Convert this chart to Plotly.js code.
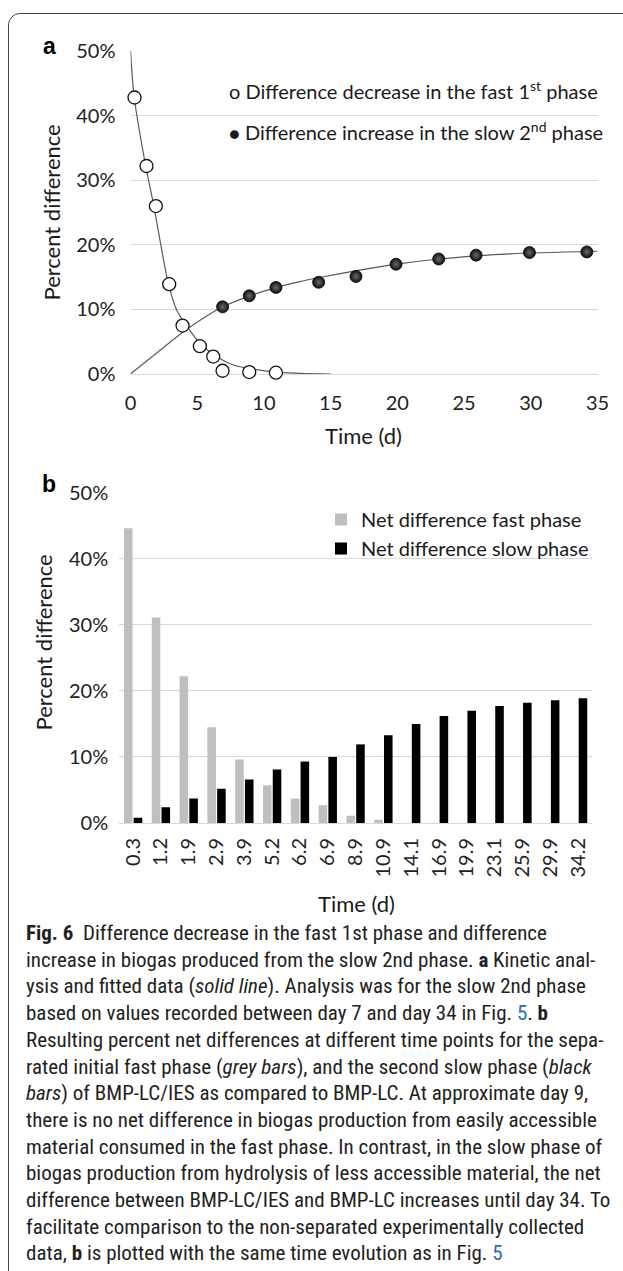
<!DOCTYPE html>
<html>
<head>
<meta charset="utf-8">
<script src="https://cdn.plot.ly/plotly-3.0.1.min.js"></script>
<style>
  html, body { margin:0; padding:0; background:#fff; width:623px; height:1271px; overflow:hidden; }
  #frame { position:absolute; left:8px; top:13px; width:700px; height:1400px; border:1px solid #444; border-top-left-radius:12px; box-sizing:border-box; pointer-events:none; z-index:5; }
  #chart { position:absolute; left:0; top:0; width:623px; height:930px; }
  #caption { position:absolute; left:26px; top:920px; width:600px; font-family:"Liberation Sans Narrow","Roboto Condensed","Liberation Sans",sans-serif; font-size:21px; line-height:26.7px; color:#231f20; white-space:nowrap; }
  #caption a { color:#2f6bb5; text-decoration:none; }
</style>
</head>
<body>
<div id="frame"></div>
<div id="chart"></div>
<div id="caption">
<b>Fig. 6</b>&nbsp; Difference decrease in the fast 1st phase and difference<br>
increase in biogas produced from the slow 2nd phase. <b>a</b> Kinetic anal-<br>
ysis and fitted data (<i>solid line</i>). Analysis was for the slow 2nd phase<br>
based on values recorded between day 7 and day 34 in Fig. <a>5</a>. <b>b</b><br>
Resulting percent net differences at different time points for the sepa-<br>
rated initial fast phase (<i>grey bars</i>), and the second slow phase (<i>black</i><br>
<i>bars</i>) of BMP-LC/IES as compared to BMP-LC. At approximate day 9,<br>
there is no net difference in biogas production from easily accessible<br>
material consumed in the fast phase. In contrast, in the slow phase of<br>
biogas production from hydrolysis of less accessible material, the net<br>
difference between BMP-LC/IES and BMP-LC increases until day 34. To<br>
facilitate comparison to the non-separated experimentally collected<br>
data, <b>b</b> is plotted with the same time evolution as in Fig. <a>5</a>
</div>
<script>
// ---- Panel a: measured points (percent) ----
var fastTimes = [0.3, 1.2, 1.9, 2.9, 3.9, 5.2, 6.2, 6.9, 8.9, 10.9];
var fastDiff  = [42.8, 32.2, 26.0, 13.9, 7.5, 4.3, 2.7, 0.5, 0.3, 0.2];
var slowTimes = [6.9, 8.9, 10.9, 14.1, 16.9, 19.9, 23.1, 25.9, 29.9, 34.2];
var slowDiff  = [10.4, 12.1, 13.4, 14.2, 15.1, 17.0, 17.8, 18.4, 18.8, 18.9];
// ---- Panel a: fitted curves ----
var fitFastX = [0, 0.28, 1.14, 1.75, 2.34, 2.84, 3.46, 4.26, 5.21, 6.46, 7.71, 10.2, 12.7, 15.0];
var fitFastY = [50, 42.8, 32.2, 26.0, 19.2, 14.0, 9.9, 7.3, 4.75, 2.7, 1.4, 0.46, 0.1, 0];
var fitSlowX = [0, 2.08, 4.33, 6.91, 8.96, 10.96, 12.7, 14.08, 16.96, 19.95, 23.1, 26.0, 28.45, 35];
var fitSlowY = [0, 3.45, 7.07, 10.4, 12.1, 13.4, 14.3, 14.9, 16.0, 17.0, 17.8, 18.3, 18.6, 19.0];
// ---- Panel b: net differences (percent) ----
var timeLabels = ['0.3','1.2','1.9','2.9','3.9','5.2','6.2','6.9','8.9','10.9','14.1','16.9','19.9','23.1','25.9','29.9','34.2'];
var netFast = [44.6, 31.1, 22.2, 14.5, 9.6, 5.7, 3.7, 2.7, 1.1, 0.5, 0, 0, 0, 0, 0, 0, 0];
var netSlow = [0.8, 2.4, 3.7, 5.2, 6.6, 8.1, 9.3, 10.0, 11.9, 13.3, 15.0, 16.2, 17.0, 17.7, 18.2, 18.6, 18.9];

var W = 623, H = 930;
function px(x){ return x / W; }
function py(y){ return 1 - y / H; }

var traces = [
  {x: fitFastX, y: fitFastY, type:'scatter', mode:'lines', line:{color:'#5a5a5a', width:1.2, shape:'spline', smoothing:0.8}, showlegend:false, xaxis:'x', yaxis:'y', cliponaxis:false},
  {x: fitSlowX, y: fitSlowY, type:'scatter', mode:'lines', line:{color:'#5a5a5a', width:1.2, shape:'spline', smoothing:0.8}, showlegend:false, xaxis:'x', yaxis:'y', cliponaxis:false},
  {x: fastTimes, y: fastDiff, type:'scatter', mode:'markers', name:'Difference decrease in the fast 1st phase',
   marker:{symbol:'circle', size:13, color:'#ffffff', line:{color:'#111', width:1.3}}, showlegend:false, xaxis:'x', yaxis:'y', cliponaxis:false},
  {x: slowTimes, y: slowDiff, type:'scatter', mode:'markers', name:'Difference increase in the slow 2nd phase',
   marker:{symbol:'circle', size:12, color:'#111111', gradient:{type:'radial', color:'#6a6a6a'}, line:{color:'#000', width:0.8}}, showlegend:false, xaxis:'x', yaxis:'y', cliponaxis:false},
  {x: timeLabels, y: netFast, type:'bar', name:'Net difference fast phase', marker:{color:'#bfbfbf'}, xaxis:'x2', yaxis:'y2'},
  {x: timeLabels, y: netSlow, type:'bar', name:'Net difference slow phase', marker:{color:'#000000'}, xaxis:'x2', yaxis:'y2'}
];

var tickFont = {family:'Lato, sans-serif', size:20, color:'#222'};
var titleFont = {family:'Lato, sans-serif', size:22, color:'#1a1a1a'};
var legFont = {family:'Lato, sans-serif', size:20, color:'#1a1a1a'};

var layout = {
  width: W, height: H,
  margin:{l:0, r:0, t:0, b:0},
  paper_bgcolor:'rgba(0,0,0,0)', plot_bgcolor:'rgba(0,0,0,0)',
  font: tickFont,
  barmode:'group', bargap:0.30, bargroupgap:0.12,
  showlegend:true,
  legend:{x:px(321), y:py(500), xanchor:'left', yanchor:'top', font:legFont, bgcolor:'rgba(0,0,0,0)', tracegroupgap:0},
  xaxis:{domain:[px(130.5), px(597.5)], range:[0,35], dtick:5, tick0:0, showgrid:false, zeroline:false, showline:false, ticks:'', ticklabelstandoff:15, tickfont:tickFont, anchor:'y', fixedrange:true},
  yaxis:{domain:[py(374), py(51)], range:[0,50], dtick:10, ticksuffix:'%', gridcolor:'#d9d9d9', gridwidth:1, zeroline:true, zerolinecolor:'#d9d9d9', zerolinewidth:1, showline:false, ticks:'', ticklabelstandoff:14, tickfont:tickFont, anchor:'x', fixedrange:true},
  xaxis2:{domain:[px(119.2), px(592)], type:'category', tickangle:-90, showgrid:false, zeroline:false, showline:false, ticks:'', ticklabelstandoff:10, tickfont:tickFont, anchor:'y2', fixedrange:true},
  yaxis2:{domain:[py(823), py(492.7)], range:[0,50], dtick:10, ticksuffix:'%', gridcolor:'#d9d9d9', gridwidth:1, zeroline:true, zerolinecolor:'#d9d9d9', zerolinewidth:1, showline:false, ticks:'', ticklabelstandoff:10, tickfont:tickFont, anchor:'x2', fixedrange:true},
  annotations:[
    {text:'<b>a</b>', xref:'paper', yref:'paper', x:px(49), y:py(46), xanchor:'center', yanchor:'middle', showarrow:false, font:{family:'Liberation Sans, Arial, sans-serif', size:23, color:'#000'}},
    {text:'<b>b</b>', xref:'paper', yref:'paper', x:px(49), y:py(484), xanchor:'center', yanchor:'middle', showarrow:false, font:{family:'Liberation Sans, Arial, sans-serif', size:23, color:'#000'}},
    {text:'Percent difference', xref:'paper', yref:'paper', x:px(50.5), y:py(212), xanchor:'center', yanchor:'middle', textangle:-90, showarrow:false, font:titleFont},
    {text:'Percent difference', xref:'paper', yref:'paper', x:px(42.5), y:py(643), xanchor:'center', yanchor:'middle', textangle:-90, showarrow:false, font:titleFont},
    {text:'Time (d)', xref:'paper', yref:'paper', x:px(363.5), y:py(436), xanchor:'center', yanchor:'middle', showarrow:false, font:titleFont},
    {text:'Time (d)', xref:'paper', yref:'paper', x:px(356), y:py(903), xanchor:'center', yanchor:'middle', showarrow:false, font:titleFont},
    {text:'o Difference decrease in the fast 1<sup>st</sup> phase', xref:'paper', yref:'paper', x:px(227), y:py(90), xanchor:'left', yanchor:'middle', showarrow:false, font:legFont},
    {text:'<span style="font-size:18px">●</span> Difference increase in the slow 2<sup>nd</sup> phase', xref:'paper', yref:'paper', x:px(227), y:py(131), xanchor:'left', yanchor:'middle', showarrow:false, font:legFont}
  ]
};

Plotly.newPlot('chart', traces, layout, {staticPlot:true, displayModeBar:false});
</script>
</body>
</html>
